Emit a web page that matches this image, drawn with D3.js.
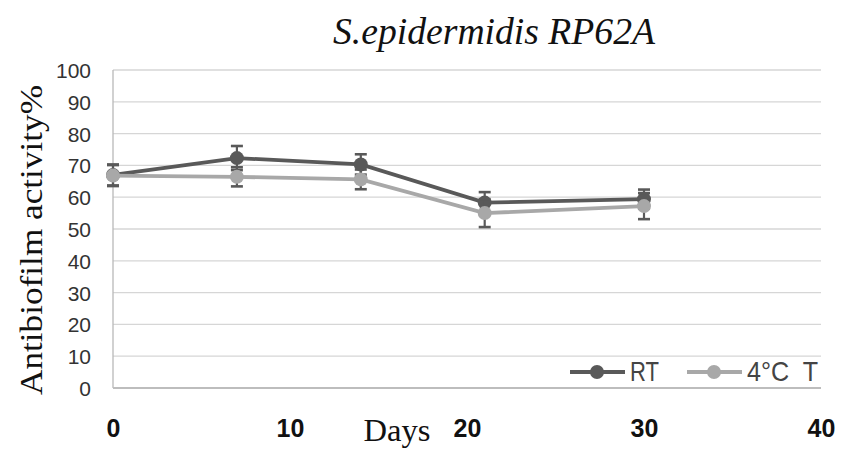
<!DOCTYPE html>
<html><head><meta charset="utf-8">
<script src="https://cdn.jsdelivr.net/npm/d3@7"></script>
<style>body{margin:0;background:#fff}svg{display:block}</style>
</head><body>
<svg id="c" width="842" height="450"></svg>
<script>
const days = [0, 7, 14, 21, 30];
const rtValues = [67, 72.3, 70.3, 58.3, 59.4];
const rtErrors = [3.3, 3.8, 3.2, 3.3, 3.0];
const coldValues = [66.8, 66.4, 65.6, 55.0, 57.2];
const coldErrors = [3.3, 3.0, 3.1, 4.4, 4.1];
const seriesNames = ["RT", "4°C  T"];
const yTicks = [0,10,20,30,40,50,60,70,80,90,100];
const xTicks = [0,10,20,30,40];

const svg = d3.select("#c");
const L = 113, R = 821, T = 70, B = 388;
const x = d3.scaleLinear().domain([0,40]).range([L,R]);
const y = d3.scaleLinear().domain([0,100]).range([B,T]);
const dark = "#595959", light = "#a8a8a8";
const sans = "'Liberation Sans',Arial,sans-serif";
const serif = "'Liberation Serif','Times New Roman',serif";

// gridlines
svg.append("g").selectAll("line").data(yTicks.filter(d=>d>0)).join("line")
  .attr("x1",L).attr("x2",R).attr("y1",d=>y(d)).attr("y2",d=>y(d))
  .attr("stroke","#d6d6d6").attr("stroke-width",1.3);
// axes lines
svg.append("line").attr("x1",L).attr("x2",L).attr("y1",T).attr("y2",B).attr("stroke","#b8b8b8").attr("stroke-width",1.3);
svg.append("line").attr("x1",L).attr("x2",R).attr("y1",B).attr("y2",B).attr("stroke","#bdbdbd").attr("stroke-width",2.2);

// y tick labels
const yAxis = d3.axisLeft(y).tickValues(yTicks).tickSize(0).tickPadding(0);
const yg = svg.append("g").attr("transform",`translate(${L-22},0)`).call(yAxis);
yg.select(".domain").remove();
yg.selectAll("text").attr("font-family",sans).attr("font-size",21).attr("fill","#333")
  .attr("dy","0.36em");

// x tick labels
const xAxis = d3.axisBottom(x).tickValues(xTicks).tickSize(0).tickPadding(0);
const xg = svg.append("g").attr("transform",`translate(0,${B})`).call(xAxis);
xg.select(".domain").remove();
xg.selectAll("text").attr("font-family",sans).attr("font-size",25).attr("font-weight","bold")
  .attr("fill","#111").attr("y",49).attr("dy",0);

// titles
svg.append("text").attr("x",494).attr("y",44).attr("text-anchor","middle")
  .attr("font-family",serif).attr("font-style","italic").attr("font-size",37)
  .attr("textLength",322).attr("lengthAdjust","spacingAndGlyphs")
  .attr("fill","#111").text("S.epidermidis RP62A");
svg.append("text").attr("transform","translate(42,240) rotate(-90)").attr("text-anchor","middle")
  .attr("font-family",serif).attr("font-size",31).attr("fill","#111")
  .attr("textLength",310).attr("lengthAdjust","spacingAndGlyphs")
  .text("Antibiofilm  activity%");
svg.append("text").attr("x",397).attr("y",441).attr("text-anchor","middle")
  .attr("font-family",serif).attr("font-size",31).attr("fill","#111")
  .attr("textLength",67).attr("lengthAdjust","spacingAndGlyphs").text("Days");

function series(vals, errs, color, errColor){
  const pts = days.map((d,i)=>({d, v:vals[i], e:errs[i]}));
  const g = svg.append("g");
  g.append("path").datum(pts).attr("fill","none").attr("stroke",color).attr("stroke-width",3.8)
    .attr("d", d3.line().x(p=>x(p.d)).y(p=>y(p.v)));
  const eb = g.append("g").selectAll("g").data(pts).join("g");
  eb.append("line").attr("x1",p=>x(p.d)).attr("x2",p=>x(p.d)).attr("y1",p=>y(p.v-p.e)).attr("y2",p=>y(p.v+p.e))
    .attr("stroke",errColor).attr("stroke-width",2.2);
  eb.append("line").attr("x1",p=>x(p.d)-6).attr("x2",p=>x(p.d)+6).attr("y1",p=>y(p.v+p.e)).attr("y2",p=>y(p.v+p.e))
    .attr("stroke",errColor).attr("stroke-width",2.6);
  eb.append("line").attr("x1",p=>x(p.d)-6).attr("x2",p=>x(p.d)+6).attr("y1",p=>y(p.v-p.e)).attr("y2",p=>y(p.v-p.e))
    .attr("stroke",errColor).attr("stroke-width",2.6);
  g.append("g").selectAll("circle").data(pts).join("circle")
    .attr("cx",p=>x(p.d)).attr("cy",p=>y(p.v)).attr("r",7).attr("fill",color);
}
series(rtValues, rtErrors, dark, dark);
series(coldValues, coldErrors, light, dark);

// legend
const legend = [{name:seriesNames[0], c:dark, x0:570, tl:29},{name:seriesNames[1], c:light, x0:687, tl:71}];
const lg = svg.append("g");
legend.forEach(l=>{
  lg.append("line").attr("x1",l.x0).attr("x2",l.x0+55).attr("y1",372).attr("y2",372).attr("stroke",l.c).attr("stroke-width",4);
  lg.append("circle").attr("cx",l.x0+27).attr("cy",372).attr("r",7).attr("fill",l.c);
  lg.append("text").attr("x",l.x0+60).attr("y",381).attr("font-family",sans)
    .attr("font-size",28).attr("fill","#444").attr("textLength",l.tl).attr("lengthAdjust","spacingAndGlyphs")
    .style("white-space","pre").text(l.name);
});
</script>
</body></html>
